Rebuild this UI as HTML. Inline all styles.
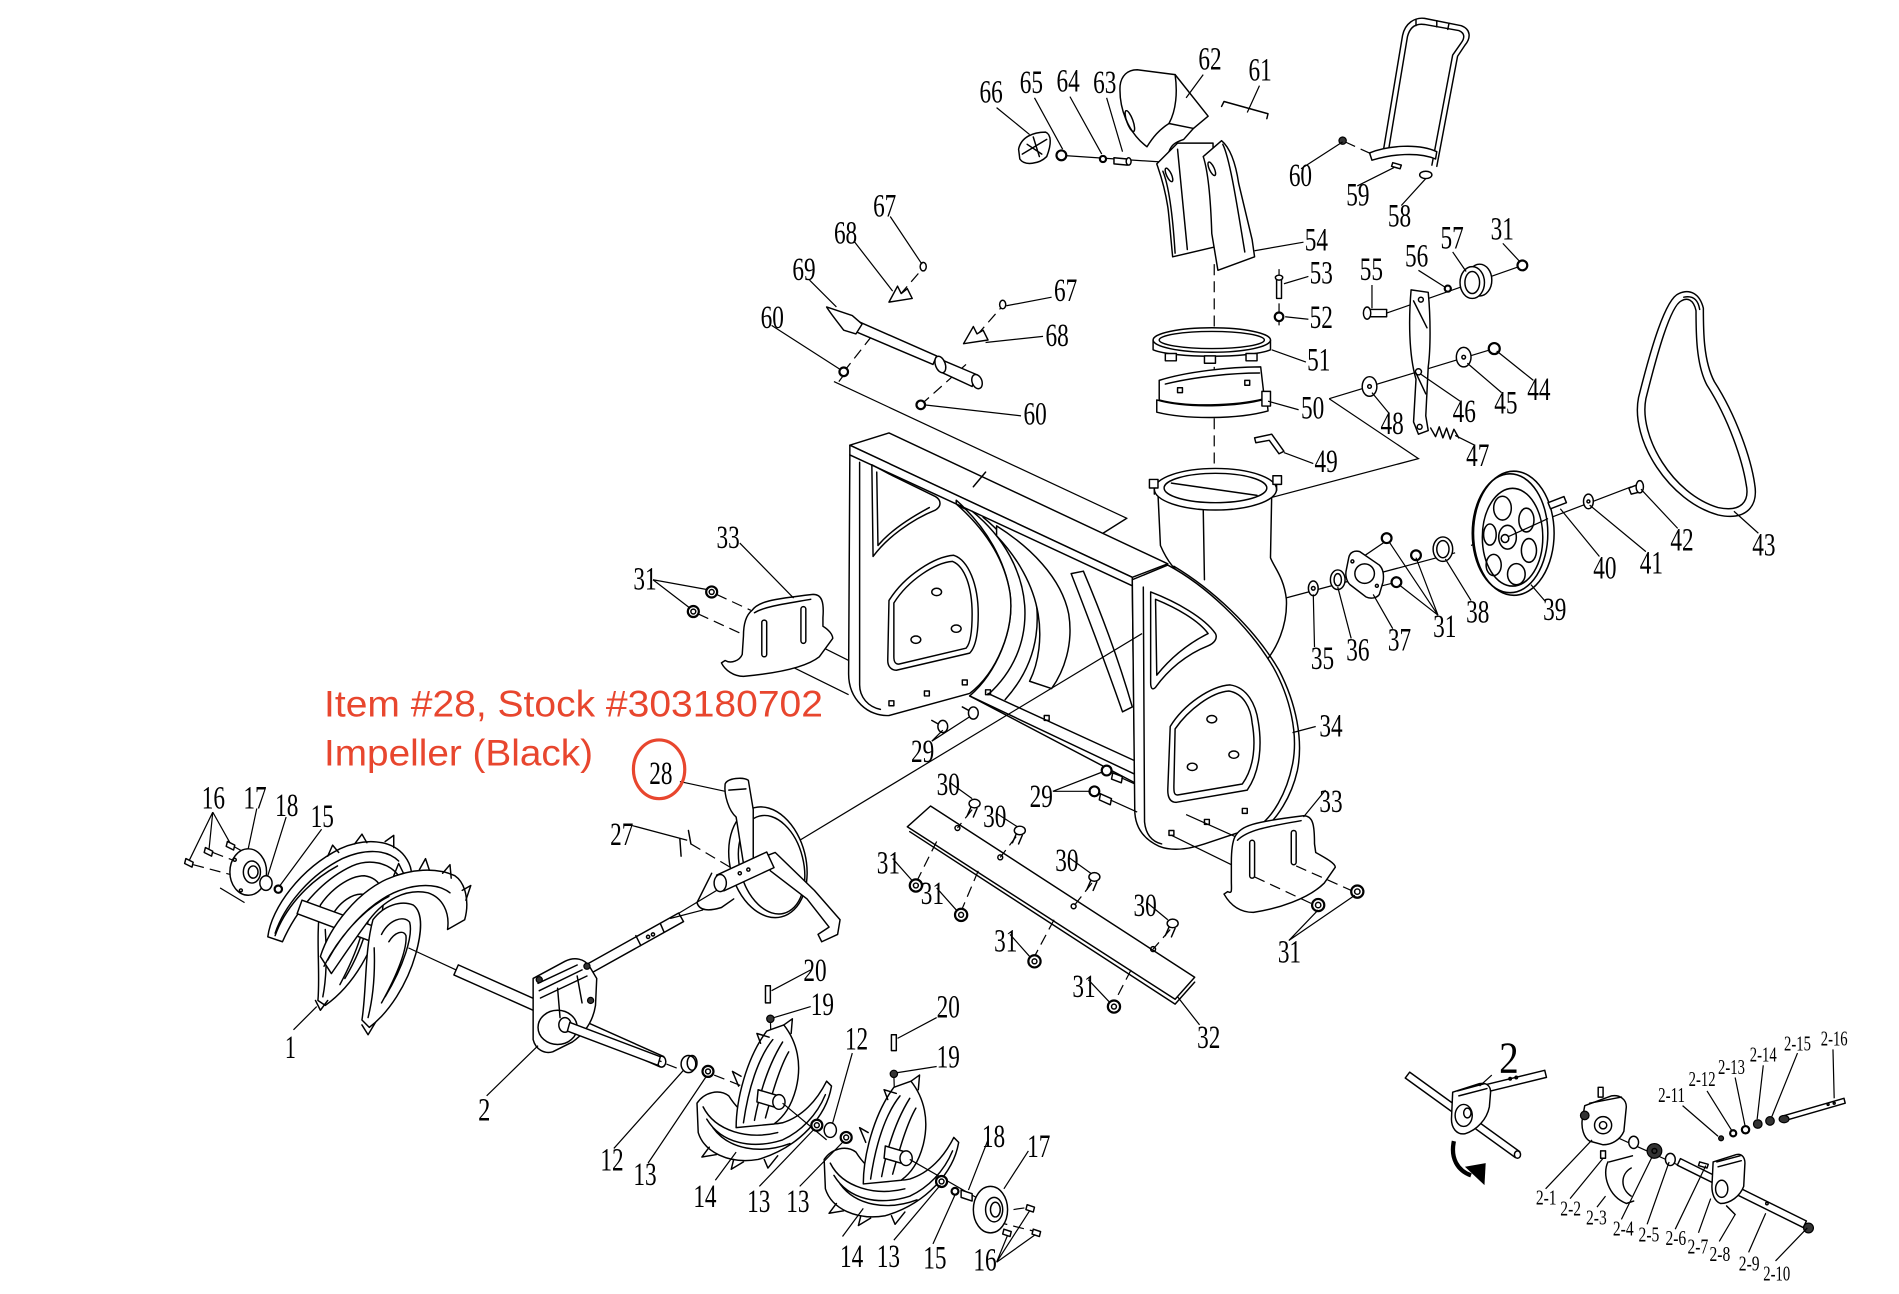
<!DOCTYPE html>
<html><head><meta charset="utf-8"><style>
html,body{margin:0;padding:0;background:#fff;width:1899px;height:1294px;overflow:hidden}
svg{display:block}
.l{fill:none;stroke:#000;stroke-width:1.2;stroke-linejoin:round;stroke-linecap:round}
.ld{fill:none;stroke:#000;stroke-width:1}
.w{fill:#fff;stroke:#000;stroke-width:1.2;stroke-linejoin:round}
.k{fill:#333;stroke:#000;stroke-width:1}
.n{fill:#fff;stroke:#000;stroke-width:1.8}
.d{fill:none;stroke:#000;stroke-width:1;stroke-dasharray:9 5}
.t{font-family:"Liberation Serif",serif;font-size:27px;fill:#000}
.s{font-family:"Liberation Serif",serif;font-size:17px;fill:#000}
.r{font-family:"Liberation Sans",sans-serif;font-size:30px;fill:#e8462e}
</style></head><body>
<svg width="1899" height="1294" viewBox="0 0 1553 1058" preserveAspectRatio="none" xmlns="http://www.w3.org/2000/svg">
<rect x="0" y="0" width="1553" height="1058" fill="#fff"/>

<!-- background connector lines -->
<path class="ld" d="M682,312 L922,424"/>
<path class="ld" d="M1087,326 L1160,375 L1020,412"/>
<path class="ld" d="M1087,326 L1222,285"/>
<path class="ld" d="M1134,256 L1245,217"/>
<path class="ld" d="M868,127 L958,133"/>
<path class="ld" d="M1040,492 L1190,452"/>
<path class="d" d="M1203,446 L1228,436"/>
<path class="ld" d="M1266,424 L1334,398"/>
<path class="d" d="M993,216 L993,392"/>
<path class="d" d="M1046,220 L1046,266"/>

<!-- ===== CHUTE BODY (behind housing plate) ===== -->
<path class="w" d="M947,404 L949,446 C955,460 962,468 970,472 L1030,546 C1045,532 1053,510 1052,490 C1050,472 1042,464 1039,456 L1040,404 Z"/>
<path class="l" d="M984,416 L985,474"/>
<ellipse class="w" cx="994" cy="400" rx="50" ry="17"/>
<ellipse class="l" cx="994" cy="399" rx="42" ry="12"/>
<path class="l" d="M944,396 L944,404 M1044,393 L1044,401 M958,395 L1028,405"/>
<rect class="w" x="940" y="392" width="7" height="7"/>
<rect class="w" x="1041" y="389" width="7" height="7"/>

<!-- ===== HOUSING ===== -->
<path class="w" d="M695,364 L727,354 L955,461 L926,472 Z"/>
<path class="w" d="M695,364 L926,472 L926,480 L695,372 Z"/>
<path class="l" d="M796,398 L806,386 M902,436 L921,424"/>
<path class="w" d="M782,412 L926,479 L928,640 L793,569 C815,550 830,515 826,485 C822,460 808,432 782,409 Z"/>
<path class="l" d="M795,418 C822,440 836,468 838,495 C840,525 828,550 808,568"/>
<path class="l" d="M804,423 C832,446 846,472 848,498 C850,528 840,552 822,572"/>
<path class="w" d="M815,430 C842,447 868,472 874,502 C878,527 870,549 860,563 L842,557 C850,541 852,520 849,502 C845,478 832,456 815,438 Z"/>
<path class="w" d="M876,469 L886,467 C900,500 915,540 926,578 L918,582 C905,545 890,505 876,469 Z"/>
<path class="l" d="M808,567 L928,622 M793,569 L928,633"/>
<rect class="l" x="806" y="564" width="4" height="4"/>
<rect class="l" x="854" y="585" width="4" height="4"/>
<!-- left plate -->
<path class="w" d="M695,372 L782,412 C808,435 822,460 826,485 C830,515 815,550 793,567 L727,585 C710,586 694,572 694,551 Z"/>
<path class="l" d="M703,378 L703,560 C703,570 710,578 720,580"/>
<path class="l" d="M713,380 L714,455 C725,440 745,425 765,417 C770,414 770,409 765,406 L730,389 Z"/>
<path class="l" d="M717,386 L718,446 C728,434 745,423 760,415"/>
<path class="l" d="M727,491 C740,470 765,455 780,454 C792,458 800,478 800,502 C800,520 797,530 793,534 L733,548 C729,548 726,545 726,540 Z"/>
<path class="l" d="M731,493 C743,474 765,460 779,459 C789,463 795,480 795,502 C795,518 793,527 790,530 L735,543 C732,543 731,541 731,537 Z"/>
<ellipse class="l" cx="766" cy="484" rx="4" ry="3"/>
<ellipse class="l" cx="782" cy="514" rx="4" ry="3"/>
<ellipse class="l" cx="749" cy="523" rx="4" ry="3"/>
<rect class="l" x="727" y="573" width="4" height="4"/>
<rect class="l" x="756" y="565" width="4" height="4"/>
<rect class="l" x="787" y="556" width="4" height="4"/>
<!-- right plate -->
<path class="w" d="M926,474 L955,462 C985,478 1020,510 1041,545 C1055,570 1062,600 1057,625 C1052,650 1040,668 1030,675 L985,690 C970,695 958,696 948,692 C935,686 928,676 928,662 Z"/>
<path class="l" d="M960,463 C990,481 1025,512 1046,548 C1060,575 1066,605 1061,630 C1056,652 1044,670 1033,678"/>
<path class="l" d="M935,480 L936,672 C937,682 942,688 950,690"/>
<path class="l" d="M941,484 C962,492 985,505 994,518 C996,522 993,526 988,528 C970,535 955,548 945,562 C942,565 941,562 941,558 Z"/>
<path class="l" d="M945,490 C962,497 980,507 988,518 C972,526 958,537 946,552 Z"/>
<path class="l" d="M957,594 C968,576 990,561 1006,560 C1020,562 1027,576 1029,590 C1032,608 1031,630 1020,646 L962,656 C957,656 955,652 955,646 Z"/>
<path class="l" d="M961,596 C972,580 991,566 1005,565 C1017,567 1023,579 1024,591 C1027,608 1026,627 1016,641 L963,650 C960,650 960,647 960,643 Z"/>
<ellipse class="l" cx="991" cy="588" rx="4" ry="3"/>
<ellipse class="l" cx="1009" cy="617" rx="4" ry="3"/>
<ellipse class="l" cx="975" cy="627" rx="4" ry="3"/>
<rect class="l" x="1016" y="661" width="4" height="4"/>
<rect class="l" x="985" y="670" width="4" height="4"/>
<rect class="l" x="956" y="679" width="4" height="4"/>

<!-- 29 bolts -->
<path class="l" d="M762,589 L771,594 M787,578 L796,583"/>
<ellipse class="w" cx="771" cy="594" rx="4" ry="5"/>
<ellipse class="w" cx="796" cy="583" rx="4" ry="5"/>
<path class="l" d="M905,630 L917,635 M895,647 L908,653"/>
<path class="w" d="M910,632 L918,635 L917,640 L909,637 Z"/>
<path class="w" d="M900,649 L909,653 L908,658 L899,654 Z"/>
<circle class="n" cx="905" cy="630" r="4"/>
<circle class="n" cx="895" cy="647" r="4"/>
<path class="ld" d="M917,636 L928,641 M908,654 L930,664"/>

<!-- long diagonal axis -->
<path class="ld" d="M934,518 L548,751"/>

<!-- ===== LEFT SKID 33 ===== -->
<path class="ld" d="M627,535 L694,568 M658,522 L694,540"/>
<path class="w" d="M615,499 C620,492 630,490 665,486 C672,486 674,492 673,505 L673,512 C678,515 681,519 681,522 L670,537 C660,545 640,550 608,553 C600,553 593,548 590,542 L593,540 C598,543 605,540 607,535 L608,520 C608,510 610,503 615,499 Z"/>
<path class="l" d="M617,501 C625,496 640,494 663,490"/>
<rect class="l" x="623" y="507" width="4" height="30" rx="2"/>
<rect class="l" x="655" y="496" width="4" height="30" rx="2"/>
<path class="d" d="M586,486 L614,499 M571,502 L606,518"/>
<circle class="n" cx="582" cy="484" r="4.5"/><circle class="l" cx="582" cy="484" r="2"/>
<circle class="n" cx="567" cy="500" r="4.5"/><circle class="l" cx="567" cy="500" r="2"/>

<!-- ===== RIGHT SKID 33 ===== -->
<path class="ld" d="M970,666 L1019,688 M958,683 L1007,707"/>
<path class="w" d="M1010,684 C1015,675 1025,672 1066,667 C1074,667 1075,675 1075,690 L1076,697 C1085,702 1092,706 1092,709 L1083,722 C1070,735 1045,743 1025,746 C1012,746 1005,738 1001,731 L1004,729 C1008,731 1007,728 1007,720 L1007,705 C1007,695 1008,688 1010,684 Z"/>
<path class="l" d="M1012,687 C1020,679 1035,676 1064,671"/>
<rect class="l" x="1022" y="687" width="4" height="31" rx="2"/>
<rect class="l" x="1056" y="679" width="4" height="28" rx="2"/>
<path class="d" d="M1026,717 L1073,739 M1060,708 L1105,728"/>
<circle class="n" cx="1078" cy="740" r="5"/><circle class="l" cx="1078" cy="740" r="2.2"/>
<circle class="n" cx="1110" cy="729" r="5"/><circle class="l" cx="1110" cy="729" r="2.2"/>

<!-- ===== SCRAPER BAR 32 ===== -->
<path class="w" d="M742,676 L761,659 L977,799 L961,817 Z"/>
<path class="l" d="M744,680 L961,821 L977,803"/>
<circle class="l" cx="783" cy="677" r="2"/>
<circle class="l" cx="818" cy="701" r="2"/>
<circle class="l" cx="878" cy="741" r="2"/>
<circle class="l" cx="943" cy="776" r="2"/>
<path class="d" d="M795,662 L783,677 M831,684 L818,701 M893,722 L878,741 M957,760 L943,776"/>
<path class="d" d="M766,688 L749,722 M800,712 L786,745 M862,752 L846,782 M925,793 L912,818"/>
<ellipse class="w" cx="797" cy="657" rx="4.5" ry="3.5"/><path class="l" d="M794,660 L791,667 M799,661 L796,668"/>
<ellipse class="w" cx="834" cy="679" rx="4.5" ry="3.5"/><path class="l" d="M831,682 L828,689 M836,683 L833,690"/>
<ellipse class="w" cx="895" cy="717" rx="4.5" ry="3.5"/><path class="l" d="M892,720 L889,727 M897,721 L894,728"/>
<ellipse class="w" cx="959" cy="755" rx="4.5" ry="3.5"/><path class="l" d="M956,758 L953,765 M961,759 L958,766"/>
<circle class="n" cx="749" cy="724" r="5"/><circle class="l" cx="749" cy="724" r="2"/>
<circle class="n" cx="786" cy="748" r="5"/><circle class="l" cx="786" cy="748" r="2"/>
<circle class="n" cx="846" cy="786" r="5"/><circle class="l" cx="846" cy="786" r="2"/>
<circle class="n" cx="911" cy="823" r="5"/><circle class="l" cx="911" cy="823" r="2"/>

<!-- ===== CONTROL ROD 69 ===== -->
<path class="d" d="M690,304 L712,276 M753,331 L790,298 M736,241 L755,219 M799,274 L820,250 M686,312 L692,304"/>
<path class="w" d="M700,262 L766,291 L763,298 L697,270 Z"/>
<path class="w" d="M676,251 L697,258 L705,265 L700,273 L690,270 C684,262 679,256 676,251 Z"/>
<path class="w" d="M772,295 L798,306 L795,316 L769,304 Z"/>
<ellipse class="w" cx="769" cy="298" rx="4" ry="7" transform="rotate(-20 769 298)"/>
<ellipse class="w" cx="799" cy="312" rx="4" ry="6" transform="rotate(-20 799 312)"/>
<path class="w" d="M727,247 L746,244 L742,236 L737,240 L734,234 Z"/>
<path class="w" d="M788,281 L808,278 L804,270 L799,273 L796,267 Z"/>
<ellipse class="w" cx="755" cy="218" rx="2.5" ry="3.5"/>
<ellipse class="w" cx="820" cy="249" rx="2.5" ry="3.5"/>
<circle class="n" cx="690" cy="304" r="3.5"/>
<circle class="n" cx="753" cy="331" r="3.5"/>

<!-- ===== CHUTE PARTS ===== -->
<path class="w" d="M916,70 C915,88 922,108 938,120 C943,112 948,106 956,101 L976,105 L988,95 L961,61 L930,57 C922,57 917,62 916,70 Z"/>
<path class="l" d="M956,101 C962,90 963,75 961,61 M976,105 L968,114 C962,116 958,118 956,124"/>
<ellipse class="l" cx="924" cy="99" rx="2.5" ry="9" transform="rotate(-20 924 99)"/>
<path class="w" d="M946,134 L963,117 L992,117 L993,202 L959,210 C957,190 956,175 955,169 C952,150 948,140 946,134 Z"/>
<path class="l" d="M951,140 C956,152 959,175 961,207 M963,122 L971,204"/>
<path class="w" d="M984,128 L999,115 C1005,120 1010,130 1013,150 L1024,196 L1026,210 L996,221 L991,191 C990,160 988,140 984,128 Z"/>
<path class="l" d="M1000,118 C1006,130 1012,170 1018,206"/>
<ellipse class="l" cx="956" cy="143" rx="2" ry="6" transform="rotate(-25 956 143)"/>
<ellipse class="l" cx="991" cy="138" rx="2" ry="6" transform="rotate(-25 991 138)"/>
<path class="l" d="M999,87 L1001,83 L1037,93 L1036,97"/>
<path class="w" d="M833,122 C835,112 845,108 855,108 C860,110 860,118 856,128 C850,134 838,136 834,130 Z"/>
<path class="l" d="M840,118 L852,126 M845,112 L850,128 M836,126 L856,114" stroke-width="1.6"/>
<circle class="n" cx="868" cy="127" r="4"/>
<circle class="n" cx="902" cy="130" r="2.5"/>
<path class="w" d="M911,129 L922,130 L922,135 L911,134 Z"/><ellipse class="w" cx="923" cy="132" rx="2" ry="3"/>

<!-- 51 -->
<path class="w" d="M943,278 L943,286 C960,293 1022,293 1039,286 L1039,278 Z"/>
<ellipse class="w" cx="991" cy="278" rx="48" ry="10"/>
<ellipse class="l" cx="991" cy="278" rx="43" ry="7"/>
<rect class="w" x="953" y="289" width="9" height="6"/>
<rect class="w" x="985" y="291" width="9" height="6"/>
<rect class="w" x="1019" y="289" width="9" height="6"/>
<!-- 50 -->
<path class="w" d="M946,327 C970,334 1012,333 1036,326 L1037,336 C1012,343 970,343 946,337 Z"/>
<path class="w" d="M948,311 C970,304 1005,300 1031,300 L1034,326 C1010,332 970,333 948,327 Z"/>
<path class="l" d="M953,314 C978,308 1008,305 1030,305"/>
<rect class="w" x="1032" y="320" width="7" height="12"/>
<rect class="l" x="963" y="317" width="4" height="4"/>
<rect class="l" x="1018" y="311" width="4" height="4"/>
<!-- 49 -->
<path class="l" d="M1026,358 L1040,355 L1050,369 L1046,371 L1038,360 L1027,362 Z"/>
<!-- 53 52 -->
<path class="w" d="M1044,228 L1048,228 L1048,244 L1044,244 Z"/><ellipse class="w" cx="1046" cy="227" rx="3" ry="2"/>
<circle class="n" cx="1046" cy="259" r="3.5"/>

<!-- handle 58 -->
<path class="l" d="M1131,125 L1147,29 C1149,19 1157,14 1165,15 L1195,21 C1203,24 1203,31 1198,37 L1192,46 L1175,136"/>
<path class="l" d="M1135,126 L1151,30 C1153,22 1158,19 1165,20 L1193,25 C1198,27 1198,31 1195,35 L1188,45 L1171,135"/>
<path class="l" d="M1158,16 L1158,21 M1175,17 L1175,22 M1185,19 L1184,24"/>
<path class="w" d="M1120,125 C1135,119 1160,117 1175,124 L1174,130 C1160,124 1138,126 1122,131 Z"/>
<ellipse class="w" cx="1166" cy="143" rx="5" ry="3"/>
<path class="w" d="M1139,133 L1146,135 L1145,138 L1138,136 Z"/>
<path class="d" d="M1100,116 L1124,127"/>
<circle class="k" cx="1098" cy="115" r="3"/>

<!-- 46 bracket, 55-57, 44-48 -->
<path class="w" d="M1154,237 L1168,239 C1170,260 1170,285 1168,300 L1166,340 L1168,352 L1160,355 L1156,345 L1158,310 C1152,290 1152,260 1154,237 Z"/>
<path class="l" d="M1156,246 L1167,268 M1158,305 L1166,322"/>
<circle class="l" cx="1162" cy="245" r="2"/><circle class="l" cx="1160" cy="304" r="2.5"/><circle class="l" cx="1161" cy="349" r="2"/>
<path class="w" d="M1118,253 L1134,253 L1134,259 L1118,259 Z"/><ellipse class="w" cx="1118" cy="256" rx="3" ry="5"/>
<circle class="n" cx="1184" cy="236" r="2.5"/>
<ellipse class="w" cx="1210" cy="229" rx="10" ry="13"/>
<ellipse class="w" cx="1204" cy="231" rx="10" ry="13"/>
<ellipse class="l" cx="1204" cy="231" rx="6" ry="9"/>
<circle class="n" cx="1245" cy="217" r="4"/>
<ellipse class="w" cx="1197" cy="292" rx="6" ry="8"/><circle class="l" cx="1197" cy="292" r="1.5"/>
<circle class="n" cx="1222" cy="285" r="4.5"/>
<ellipse class="w" cx="1120" cy="316" rx="6" ry="8"/><circle class="l" cx="1120" cy="316" r="1.5"/>
<path class="l" d="M1170,350 L1174,357 L1177,349 L1180,358 L1183,350 L1186,359 L1189,351 L1193,358" stroke-width="1.6"/>

<!-- 43 belt -->
<path class="l" d="M1373,240 C1362,244 1350,285 1340,325 C1333,360 1365,410 1405,421 C1428,426 1438,414 1435,396 C1432,375 1420,340 1402,312 C1393,295 1393,270 1393,252 C1390,240 1382,236 1373,240 Z"/>
<path class="l" d="M1375,246 C1366,250 1355,290 1346,326 C1340,357 1368,404 1405,415 C1424,419 1431,410 1428,396 C1425,377 1414,343 1396,315 C1387,298 1387,272 1387,254 C1385,245 1380,243 1375,246 Z"/>
<path class="l" d="M1377,243 C1386,241 1389,247 1390,253"/>

<!-- 39 pulley -->
<g transform="translate(1238,436) scale(1.03,1.08) translate(-1238,-429)">
<ellipse class="w" cx="1238" cy="429" rx="32" ry="47"/>
<ellipse class="l" cx="1235" cy="429" rx="30" ry="45"/>
<ellipse class="l" cx="1237" cy="432" rx="24" ry="37"/>
<ellipse class="l" cx="1229" cy="410" rx="7" ry="9"/>
<ellipse class="l" cx="1248" cy="419" rx="6" ry="9"/>
<ellipse class="l" cx="1250" cy="442" rx="6" ry="9"/>
<ellipse class="l" cx="1240" cy="460" rx="7" ry="8"/>
<ellipse class="l" cx="1222" cy="453" rx="6" ry="8"/>
<ellipse class="l" cx="1219" cy="430" rx="5" ry="8"/>
<ellipse class="w" cx="1233" cy="432" rx="7" ry="9"/>
<circle class="l" cx="1231" cy="433" r="3"/>
</g>
<path class="ld" d="M1233,439 L1266,424"/>
<path class="w" d="M1266,411 L1279,406 L1281,411 L1268,416 Z"/>
<ellipse class="w" cx="1299" cy="410" rx="4" ry="6"/><circle class="l" cx="1299" cy="410" r="1.2"/>
<path class="w" d="M1332,399 L1340,396 L1342,402 L1334,404 Z"/><ellipse class="w" cx="1341" cy="398" rx="3" ry="5"/>
<ellipse class="w" cx="1180" cy="449" rx="8" ry="10"/><ellipse class="l" cx="1180" cy="449" rx="5" ry="7"/>
<path class="ld" d="M1112,457 L1134,442 M1122,481 L1142,476"/>
<path class="w" d="M1103,456 C1104,451 1108,450 1112,451 L1128,462 C1131,465 1132,470 1131,476 L1128,486 C1126,489 1121,490 1117,488 L1104,478 C1101,475 1100,470 1101,466 Z"/>
<circle class="l" cx="1116" cy="469" r="8"/>
<circle class="l" cx="1106" cy="459" r="1.2"/><circle class="l" cx="1126" cy="479" r="1.2"/>
<circle class="n" cx="1134" cy="440" r="4"/>
<circle class="n" cx="1158" cy="454" r="4"/>
<circle class="n" cx="1142" cy="476" r="4"/>
<ellipse class="w" cx="1094" cy="474" rx="6" ry="8"/><ellipse class="l" cx="1094" cy="474" rx="3" ry="5"/>
<ellipse class="w" cx="1074" cy="481" rx="4" ry="6"/><circle class="l" cx="1074" cy="481" r="1.5"/>

<!-- ===== LEFT AUGER 1 ===== -->
<path class="d" d="M158,707 L192,716 M174,697 L195,705 M191,692 L200,697"/>
<path class="ld" d="M180,726 L200,738"/>
<path class="w" d="M219,766 C222,742 246,710 278,694 C298,685 320,686 331,700 C337,708 338,716 334,722 L326,716 C318,705 302,702 288,708 C262,720 242,745 231,770 Z"/>
<path class="l" d="M225,763 C232,742 252,716 280,702 C298,694 316,694 326,704"/>
<path class="l" d="M268,700 L272,691 L277,697 M290,690 L296,682 L300,689 M315,688 L322,683 L322,693"/>
<path class="w" d="M262,740 C270,728 285,716 298,716 C312,718 316,730 312,748 C306,775 290,805 266,822 L260,818 C262,795 258,765 262,740 Z"/>
<path class="l" d="M270,752 C276,738 290,728 300,732 C306,740 300,770 282,800 M266,760 C268,790 266,805 264,815 M276,756 C282,746 292,740 298,744 C300,752 294,775 278,805"/>
<path class="l" d="M225,765 C232,745 250,722 276,708"/>
<path class="w" d="M247,736 L335,768 L331,780 L243,747 Z"/>
<ellipse class="w" cx="333" cy="774" rx="5" ry="6.5"/>
<path class="w" d="M262,782 C270,757 292,730 316,719 C336,710 357,709 372,716 C381,722 384,738 380,752 L366,760 C368,746 362,734 350,730 C332,726 314,736 302,752 C290,768 278,786 271,796 Z"/>
<path class="l" d="M268,785 C280,763 300,740 322,730 C340,722 358,722 368,730 M265,790 C276,768 296,744 318,733"/>
<path class="l" d="M322,716 L326,706 L330,714 M343,711 L348,702 L351,711 M362,714 L368,707 L369,718 M378,728 L385,724 L381,736"/>
<path class="w" d="M305,752 C314,740 328,736 338,740 C346,746 345,762 340,780 C333,805 318,828 302,840 L296,834 C300,808 298,778 305,752 Z"/>
<path class="l" d="M312,764 C318,752 330,748 335,754 C338,765 330,790 315,815 M306,775 C307,800 304,820 301,832 M318,770 C323,762 330,760 332,765 C333,775 326,795 312,820"/>
<path class="l" d="M258,818 L262,826 L268,818 M296,838 L301,846 L307,836"/>
<ellipse class="w" cx="203" cy="713" rx="15" ry="19"/>
<ellipse class="l" cx="206" cy="713" rx="7" ry="9"/><ellipse class="l" cx="207" cy="713" rx="4" ry="5"/>
<circle class="l" cx="192" cy="703" r="1.2"/><circle class="l" cx="197" cy="728" r="1.2"/>
<ellipse class="w" cx="217.5" cy="722" rx="5" ry="6"/>
<circle class="n" cx="227.6" cy="727" r="3"/>
<path class="w" d="M152,702 L158,705 L157,709 L151,706 Z"/>
<path class="w" d="M168,693 L174,696 L173,700 L167,697 Z"/>
<path class="w" d="M186,688 L192,691 L191,695 L185,692 Z"/>

<!-- ===== AXLE + GEARBOX 2 ===== -->
<path class="ld" d="M334,775 L373,793"/>
<path class="w" d="M374.8,788.9 L542.8,863.9 L539.2,872.1 L371.2,797.1 Z"/>
<ellipse class="w" cx="541" cy="868" rx="3.5" ry="4.5"/>
<path class="w" d="M478,789.5 L555,746.5 L559,753.5 L482,796.5 Z"/>
<path class="l" d="M520,765 L524,773 M540,755 L543,762"/>
<circle class="l" cx="530" cy="766" r="1.3"/><circle class="l" cx="534" cy="764" r="1.3"/>
<path class="w" d="M436,800 L462,786 C470,782 478,784 482,790 L488,800 L487,822 C485,835 478,845 468,852 L452,860 C445,862 438,858 436,850 Z"/>
<path class="l" d="M440,804 L472,789 M441,810 L476,793 M442,816 L480,798 M456,808 L458,832 M472,798 L476,820"/>
<ellipse class="l" cx="456" cy="840" rx="16" ry="14"/>
<ellipse class="w" cx="462" cy="838" rx="5" ry="6"/>
<circle class="k" cx="441" cy="801" r="2.5"/><circle class="k" cx="480" cy="790" r="2.5"/><circle class="k" cx="483" cy="818" r="2.5"/>
<path class="ld" d="M466,840 L541,868"/>
<path class="w" d="M466,836 L540,864 L538,871 L464,843 Z"/>

<!-- ===== IMPELLER 28 ===== -->
<ellipse class="w" cx="628" cy="705" rx="31" ry="46" transform="rotate(-14 628 705)"/>
<ellipse class="l" cx="631" cy="707" rx="26" ry="41" transform="rotate(-14 631 707)"/>
<path class="w" d="M593,641 C595,636 608,635 612,638 L616,662 L616,703 L608,706 L602,668 C596,663 592,650 593,641 Z"/>
<path class="l" d="M596,646 L610,645"/>
<path class="w" d="M626,700 L634,697 L666,728 L687,752 L685,764 L672,770 L669,764 L678,758 L660,735 L630,712 Z"/>
<path class="w" d="M586,715.6 L627,696.6 L633,709.4 L592,728.4 Z"/>
<ellipse class="w" cx="589" cy="722" rx="5" ry="7"/>
<circle class="l" cx="605" cy="714" r="1.3"/><circle class="l" cx="612" cy="711" r="1.3"/>
<path class="l" d="M582,714 L570,738 C572,745 580,745 590,742 L600,735"/>
<path class="ld" d="M575,744 L548,751"/>
<path class="l" d="M563,679 L565,690 M556,686 L557,700"/>
<path class="d" d="M565,690 L597,709"/>

<!-- ===== LOWER AUGERS 14 ===== -->
<path class="d" d="M545,870 L558,875 M584,879 L622,894"/>
<ellipse class="w" cx="563" cy="870" rx="6" ry="7"/><ellipse class="l" cx="566" cy="869" rx="4" ry="6"/>
<circle class="n" cx="579" cy="876" r="4.5"/><circle class="l" cx="579" cy="876" r="2"/>
<g>
<path class="ld" d="M630,833 L632,895"/>
<path class="w" d="M570,902 C576,893 588,890 596,896 C606,912 622,922 640,918 C656,913 668,900 676,884 L680,888 C676,912 654,938 620,948 C596,952 576,942 571,926 Z"/>
<path class="l" d="M578,915 C590,935 615,940 640,932 C655,925 668,912 675,895 M575,905 C585,925 612,932 636,926 M583,922 C596,940 622,944 646,935"/>
<path class="w" d="M627,843 L641,838 C652,852 656,870 651,890 C647,905 641,913 633,919 L602,922 C602,900 610,866 627,843 Z"/>
<path class="l" d="M608,918 C612,890 620,865 632,850 M617,916 C622,890 630,868 640,852 M626,914 C632,892 638,872 645,860"/>
<path class="l" d="M622,853 L619,845 L629,848 M641,838 L648,833 L647,845 M580,938 L574,946 L586,944 M600,948 L598,956 L608,950 M625,948 L628,955 L636,945 M606,880 L599,876 L604,888"/>
<path class="w" d="M620,891 L637,896 L636,906 L619,901 Z"/>
<ellipse class="w" cx="637" cy="901" rx="5" ry="6"/>
</g>
<path class="ld" d="M640,902 L676,932"/>
<circle class="n" cx="668" cy="920" r="4.5"/><circle class="l" cx="668" cy="920" r="2"/>
<ellipse class="w" cx="679" cy="924" rx="5" ry="6"/>
<circle class="n" cx="692" cy="930" r="4.5"/><circle class="l" cx="692" cy="930" r="2"/>
<g transform="translate(104,46)">
<path class="ld" d="M627,833 L629,895"/>
<path class="w" d="M570,902 C576,893 588,890 596,896 C606,912 622,922 640,918 C656,913 668,900 676,884 L680,888 C676,912 654,938 620,948 C596,952 576,942 571,926 Z"/>
<path class="l" d="M578,915 C590,935 615,940 640,932 C655,925 668,912 675,895 M575,905 C585,925 612,932 636,926 M583,922 C596,940 622,944 646,935"/>
<path class="w" d="M627,843 L641,838 C652,852 656,870 651,890 C647,905 641,913 633,919 L602,922 C602,900 610,866 627,843 Z"/>
<path class="l" d="M608,918 C612,890 620,865 632,850 M617,916 C622,890 630,868 640,852 M626,914 C632,892 638,872 645,860"/>
<path class="l" d="M622,853 L619,845 L629,848 M641,838 L648,833 L647,845 M580,938 L574,946 L586,944 M600,948 L598,956 L608,950 M625,948 L628,955 L636,945 M606,880 L599,876 L604,888"/>
<path class="w" d="M620,891 L637,896 L636,906 L619,901 Z"/>
<ellipse class="w" cx="637" cy="901" rx="5" ry="6"/>
</g>
<path class="ld" d="M744,948 L800,980"/>
<path class="w" d="M626,806 L630,806 L630,820 L626,820 Z"/><circle class="k" cx="630" cy="833" r="3"/>
<path class="w" d="M729,846 L733,846 L733,859 L729,859 Z"/><circle class="k" cx="731" cy="878" r="3"/>
<circle class="n" cx="770" cy="966" r="4.5"/><circle class="l" cx="770" cy="966" r="2"/>
<circle class="n" cx="781" cy="974" r="2.8"/>
<path class="w" d="M786,973 L795,976 L795,982 L786,979 Z"/>
<path class="d" d="M815,991 L842,987 M815,999 L847,1007 M810,1000 L823,1007"/>
<ellipse class="w" cx="810" cy="989" rx="14" ry="19"/>
<ellipse class="l" cx="813" cy="989" rx="7" ry="10"/><ellipse class="l" cx="814" cy="989" rx="4" ry="6"/>
<path class="w" d="M840,985 L846,987 L845,991 L839,989 Z"/>
<path class="w" d="M845,1005 L851,1007 L850,1011 L844,1009 Z"/>
<path class="w" d="M821,1005 L827,1007 L826,1011 L820,1009 Z"/>

<!-- ===== INSET (2-x) ===== -->
<path class="w" d="M1152.8,876.6 L1242.8,941.6 L1239.2,946.4 L1149.2,881.4 Z"/>
<ellipse class="w" cx="1241" cy="944" rx="2.5" ry="3"/>
<path class="w" d="M1189.3,893.1 L1263.3,875.1 L1264.7,880.9 L1190.7,898.9 Z"/>
<circle class="l" cx="1235" cy="882" r="1"/><circle class="l" cx="1240" cy="881" r="1"/>
<path class="w" d="M1188,893 L1210,886 C1216,885 1219,888 1219,893 L1218,905 C1216,915 1208,924 1198,927 C1191,928 1187,922 1187,915 Z"/>
<path class="l" d="M1192,892 L1214,886 M1193,896 L1216,890"/>
<ellipse class="l" cx="1197" cy="912" rx="7" ry="9"/><ellipse class="w" cx="1200" cy="910" rx="3" ry="4"/>
<path d="M1189,933 C1186,947 1192,957 1203,961" stroke="#000" stroke-width="3.5" fill="none"/>
<path d="M1198,954 L1214,969 L1215,951 Z" fill="#000"/>
<path class="ld" d="M1318,928 L1400,965"/>
<path class="w" d="M1296,904 L1318,896 C1325,895 1330,899 1330,905 L1328,925 C1325,932 1318,936 1311,936 L1300,933 C1295,930 1293,922 1294,915 Z"/>
<path class="l" d="M1300,902 L1326,897"/>
<circle class="l" cx="1311" cy="920" r="7"/><circle class="l" cx="1311" cy="920" r="3"/>
<circle class="k" cx="1296" cy="912" r="3.5"/>
<path class="w" d="M1307,889 L1311,889 L1311,897 L1307,897 Z"/>
<path class="w" d="M1309,941 L1313,941 L1313,947 L1309,947 Z"/>
<path class="l" d="M1316,950 L1335,945 M1315,950 C1310,960 1315,978 1330,984 L1336,982 M1334,955 C1325,960 1325,972 1334,978"/>
<ellipse class="w" cx="1336" cy="934" rx="4" ry="5"/>
<circle class="k" cx="1353" cy="941" r="6"/><circle class="l" cx="1353" cy="941" r="2"/>
<ellipse class="w" cx="1366" cy="948" rx="4" ry="5"/>
<path class="w" d="M1374.3,947.3 L1477.3,998.3 L1474.7,1003.7 L1371.7,952.7 Z"/>
<circle class="l" cx="1445" cy="984" r="1"/>
<path class="w" d="M1390,950 L1397,952 L1396,955 L1389,953 Z"/>
<path class="w" d="M1401,950 L1420,944 C1425,943 1427,947 1427,951 L1426,970 C1423,978 1415,984 1407,984 C1402,982 1400,976 1400,970 Z"/>
<path class="l" d="M1404,950 L1423,945 M1405,954 L1424,949"/>
<ellipse class="l" cx="1408" cy="972" rx="5" ry="7"/>
<path class="l" d="M1412,986 L1419,993"/>
<circle class="k" cx="1479" cy="1004" r="4"/>
<path class="w" d="M1456,913 L1508,898 L1509,902 L1457,917 Z"/>
<ellipse class="k" cx="1459" cy="915" rx="4" ry="3"/>
<circle class="l" cx="1495" cy="903" r="0.8"/><circle class="l" cx="1500" cy="902" r="0.8"/>
<circle class="k" cx="1407.5" cy="930.7" r="2"/>
<circle class="n" cx="1417.4" cy="926.6" r="2.5"/>
<circle class="n" cx="1427.5" cy="923.7" r="3"/>
<circle class="k" cx="1437.5" cy="919" r="3.5"/>
<circle class="k" cx="1447.5" cy="916.5" r="3.5"/>

<!-- ===== LEADER LINES ===== -->
<path class="ld" d="M815,88 L842,110 M846,80 L869,122 M875,79 L901,126 M905,80 L918,124 M984,61 L970,80 M1030,70 L1020,92
M1064,138 L1098,116 M1110,152 L1140,137 M1146,168 L1166,146
M1066,198 L1026,205 M1070,226 L1050,232 M1070,261 L1051,259 M1068,296 L1040,286 M1062,335 L1037,328 M1074,379 L1050,370
M1122,233 L1122,252 M1160,221 L1182,235 M1188,206 L1199,222 M1229,199 L1243,214
M1254,311 L1224,287 M1228,321 L1200,297 M1194,328 L1162,306 M1136,338 L1122,321 M1206,364 L1190,356
M1438,436 L1418,418 M1372,432 L1342,400 M1346,451 L1300,413 M1308,455 L1276,416 M1264,492 L1252,478
M1203,491 L1182,457 M1176,503 L1136,443 M1176,503 L1158,456 M1176,503 L1144,478 M1139,514 L1123,486 M1105,522 L1094,480 M1075,529 L1074,486
M1076,594 L1057,599 M1084,646 L1066,668 M1054,769 L1078,744 M1054,769 L1108,732 M981,838 L963,815
M777,640 L795,653 M815,665 L832,676 M874,701 L892,714 M938,738 L955,752
M730,702 L746,720 M766,726 L782,744 M826,764 L842,782 M890,801 L907,819
M861,647 L902,631 M861,647 L892,647 M762,606 L771,597 M762,606 L793,586
M605,444 L649,489 M534,474 L578,482 M534,474 L564,497
M631,266 L687,302 M662,229 L684,251 M699,198 L730,238 M728,177 L754,216 M860,243 L823,250 M853,275 L806,280 M835,340 L756,331
M556,639 L593,647 M517,675 L562,687
M174,664 L155,703 M174,664 L171,694 M174,664 L188,689 M210,661 L203,694 M234,668 L219,716 M263,678 L229,724
M240,842 L259,823 M398,896 L440,855
M502,939 L559,875 M530,951 L577,881 M585,965 L602,942 M621,970 L666,923 M654,970 L690,933
M663,793 L631,810 M663,823 L633,832 M697,861 L681,918 M766,832 L734,849 M766,872 L734,877
M808,932 L792,973 M841,941 L821,972 M815,1032 L842,990 M815,1032 L846,1010 M815,1032 L824,1010
M689,1011 L706,988 M731,1014 L769,969 M763,1017 L781,977"/>
<path class="ld" d="M1220,879 L1210,888 M1264,972 L1302,932 M1284,980 L1311,947 M1306,987 L1313,978 M1326,997 L1351,946 M1347,1001 L1365,950 M1370,1005 L1395,953 M1389,1008 L1399,980 M1406,1015 L1419,993 M1430,1024 L1444,992 M1452,1031 L1478,1004
M1376,904 L1405,929 M1396,892 L1416,924 M1419,881 L1427,920 M1442,871 L1437,915 M1470,861 L1449,913 M1499,858 L1500,898"/>

<!-- ===== LABELS ===== -->
<g class="t">
<text x="801" y="84" textLength="19" lengthAdjust="spacingAndGlyphs">66</text>
<text x="834" y="76" textLength="19" lengthAdjust="spacingAndGlyphs">65</text>
<text x="864" y="75" textLength="19" lengthAdjust="spacingAndGlyphs">64</text>
<text x="894" y="76" textLength="19" lengthAdjust="spacingAndGlyphs">63</text>
<text x="980" y="57" textLength="19" lengthAdjust="spacingAndGlyphs">62</text>
<text x="1021" y="66" textLength="19" lengthAdjust="spacingAndGlyphs">61</text>
<text x="1054" y="152" textLength="19" lengthAdjust="spacingAndGlyphs">60</text>
<text x="1101" y="168" textLength="19" lengthAdjust="spacingAndGlyphs">59</text>
<text x="1135" y="185" textLength="19" lengthAdjust="spacingAndGlyphs">58</text>
<text x="1067" y="205" textLength="19" lengthAdjust="spacingAndGlyphs">54</text>
<text x="1071" y="232" textLength="19" lengthAdjust="spacingAndGlyphs">53</text>
<text x="1071" y="268" textLength="19" lengthAdjust="spacingAndGlyphs">52</text>
<text x="1069" y="303" textLength="19" lengthAdjust="spacingAndGlyphs">51</text>
<text x="1064" y="342" textLength="19" lengthAdjust="spacingAndGlyphs">50</text>
<text x="1075" y="386" textLength="19" lengthAdjust="spacingAndGlyphs">49</text>
<text x="1112" y="229" textLength="19" lengthAdjust="spacingAndGlyphs">55</text>
<text x="1149" y="218" textLength="19" lengthAdjust="spacingAndGlyphs">56</text>
<text x="1178" y="203" textLength="19" lengthAdjust="spacingAndGlyphs">57</text>
<text x="1219" y="196" textLength="19" lengthAdjust="spacingAndGlyphs">31</text>
<text x="1249" y="327" textLength="19" lengthAdjust="spacingAndGlyphs">44</text>
<text x="1222" y="338" textLength="19" lengthAdjust="spacingAndGlyphs">45</text>
<text x="1188" y="345" textLength="19" lengthAdjust="spacingAndGlyphs">46</text>
<text x="1129" y="355" textLength="19" lengthAdjust="spacingAndGlyphs">48</text>
<text x="1199" y="381" textLength="19" lengthAdjust="spacingAndGlyphs">47</text>
<text x="1433" y="454" textLength="19" lengthAdjust="spacingAndGlyphs">43</text>
<text x="1366" y="450" textLength="19" lengthAdjust="spacingAndGlyphs">42</text>
<text x="1341" y="469" textLength="19" lengthAdjust="spacingAndGlyphs">41</text>
<text x="1303" y="473" textLength="19" lengthAdjust="spacingAndGlyphs">40</text>
<text x="1262" y="507" textLength="19" lengthAdjust="spacingAndGlyphs">39</text>
<text x="1199" y="509" textLength="19" lengthAdjust="spacingAndGlyphs">38</text>
<text x="1172" y="521" textLength="19" lengthAdjust="spacingAndGlyphs">31</text>
<text x="1135" y="532" textLength="19" lengthAdjust="spacingAndGlyphs">37</text>
<text x="1101" y="540" textLength="19" lengthAdjust="spacingAndGlyphs">36</text>
<text x="1072" y="547" textLength="19" lengthAdjust="spacingAndGlyphs">35</text>
<text x="1079" y="602" textLength="19" lengthAdjust="spacingAndGlyphs">34</text>
<text x="1079" y="664" textLength="19" lengthAdjust="spacingAndGlyphs">33</text>
<text x="1045" y="787" textLength="19" lengthAdjust="spacingAndGlyphs">31</text>
<text x="979" y="857" textLength="19" lengthAdjust="spacingAndGlyphs">32</text>
<text x="766" y="650" textLength="19" lengthAdjust="spacingAndGlyphs">30</text>
<text x="804" y="676" textLength="19" lengthAdjust="spacingAndGlyphs">30</text>
<text x="863" y="712" textLength="19" lengthAdjust="spacingAndGlyphs">30</text>
<text x="927" y="749" textLength="19" lengthAdjust="spacingAndGlyphs">30</text>
<text x="717" y="714" textLength="19" lengthAdjust="spacingAndGlyphs">31</text>
<text x="753" y="739" textLength="19" lengthAdjust="spacingAndGlyphs">31</text>
<text x="813" y="778" textLength="19" lengthAdjust="spacingAndGlyphs">31</text>
<text x="877" y="815" textLength="19" lengthAdjust="spacingAndGlyphs">31</text>
<text x="842" y="660" textLength="19" lengthAdjust="spacingAndGlyphs">29</text>
<text x="745" y="623" textLength="19" lengthAdjust="spacingAndGlyphs">29</text>
<text x="586" y="448" textLength="19" lengthAdjust="spacingAndGlyphs">33</text>
<text x="518" y="482" textLength="19" lengthAdjust="spacingAndGlyphs">31</text>
<text x="622" y="268" textLength="19" lengthAdjust="spacingAndGlyphs">60</text>
<text x="648" y="229" textLength="19" lengthAdjust="spacingAndGlyphs">69</text>
<text x="682" y="199" textLength="19" lengthAdjust="spacingAndGlyphs">68</text>
<text x="714" y="177" textLength="19" lengthAdjust="spacingAndGlyphs">67</text>
<text x="862" y="246" textLength="19" lengthAdjust="spacingAndGlyphs">67</text>
<text x="855" y="283" textLength="19" lengthAdjust="spacingAndGlyphs">68</text>
<text x="837" y="347" textLength="19" lengthAdjust="spacingAndGlyphs">60</text>
<text x="531" y="641" textLength="19" lengthAdjust="spacingAndGlyphs">28</text>
<text x="499" y="691" textLength="19" lengthAdjust="spacingAndGlyphs">27</text>
<text x="165" y="661" textLength="19" lengthAdjust="spacingAndGlyphs">16</text>
<text x="199" y="661" textLength="19" lengthAdjust="spacingAndGlyphs">17</text>
<text x="225" y="667" textLength="19" lengthAdjust="spacingAndGlyphs">18</text>
<text x="254" y="676" textLength="19" lengthAdjust="spacingAndGlyphs">15</text>
<text x="233" y="865" textLength="9" lengthAdjust="spacingAndGlyphs">1</text>
<text x="391" y="916" textLength="10" lengthAdjust="spacingAndGlyphs">2</text>
<text x="491" y="957" textLength="19" lengthAdjust="spacingAndGlyphs">12</text>
<text x="518" y="969" textLength="19" lengthAdjust="spacingAndGlyphs">13</text>
<text x="567" y="987" textLength="19" lengthAdjust="spacingAndGlyphs">14</text>
<text x="611" y="991" textLength="19" lengthAdjust="spacingAndGlyphs">13</text>
<text x="643" y="991" textLength="19" lengthAdjust="spacingAndGlyphs">13</text>
<text x="657" y="802" textLength="19" lengthAdjust="spacingAndGlyphs">20</text>
<text x="663" y="830" textLength="19" lengthAdjust="spacingAndGlyphs">19</text>
<text x="691" y="858" textLength="19" lengthAdjust="spacingAndGlyphs">12</text>
<text x="766" y="832" textLength="19" lengthAdjust="spacingAndGlyphs">20</text>
<text x="766" y="873" textLength="19" lengthAdjust="spacingAndGlyphs">19</text>
<text x="803" y="938" textLength="19" lengthAdjust="spacingAndGlyphs">18</text>
<text x="840" y="946" textLength="19" lengthAdjust="spacingAndGlyphs">17</text>
<text x="687" y="1036" textLength="19" lengthAdjust="spacingAndGlyphs">14</text>
<text x="717" y="1036" textLength="19" lengthAdjust="spacingAndGlyphs">13</text>
<text x="755" y="1037" textLength="19" lengthAdjust="spacingAndGlyphs">15</text>
<text x="796" y="1039" textLength="19" lengthAdjust="spacingAndGlyphs">16</text>
</g>
<text x="1226" y="877" font-family="Liberation Serif, serif" font-size="36" textLength="16" lengthAdjust="spacingAndGlyphs">2</text>
<g class="s">
<text x="1256" y="985" textLength="17" lengthAdjust="spacingAndGlyphs">2-1</text>
<text x="1276" y="994" textLength="17" lengthAdjust="spacingAndGlyphs">2-2</text>
<text x="1297" y="1001" textLength="17" lengthAdjust="spacingAndGlyphs">2-3</text>
<text x="1319" y="1010" textLength="17" lengthAdjust="spacingAndGlyphs">2-4</text>
<text x="1340" y="1015" textLength="17" lengthAdjust="spacingAndGlyphs">2-5</text>
<text x="1362" y="1018" textLength="17" lengthAdjust="spacingAndGlyphs">2-6</text>
<text x="1380" y="1025" textLength="17" lengthAdjust="spacingAndGlyphs">2-7</text>
<text x="1398" y="1031" textLength="17" lengthAdjust="spacingAndGlyphs">2-8</text>
<text x="1422" y="1039" textLength="17" lengthAdjust="spacingAndGlyphs">2-9</text>
<text x="1442" y="1047" textLength="22" lengthAdjust="spacingAndGlyphs">2-10</text>
<text x="1356" y="901" textLength="22" lengthAdjust="spacingAndGlyphs">2-11</text>
<text x="1381" y="888" textLength="22" lengthAdjust="spacingAndGlyphs">2-12</text>
<text x="1405" y="878" textLength="22" lengthAdjust="spacingAndGlyphs">2-13</text>
<text x="1431" y="868" textLength="22" lengthAdjust="spacingAndGlyphs">2-14</text>
<text x="1459" y="859" textLength="22" lengthAdjust="spacingAndGlyphs">2-15</text>
<text x="1489" y="855" textLength="22" lengthAdjust="spacingAndGlyphs">2-16</text>
</g>

<!-- red annotation -->
<text class="r" x="265" y="586" textLength="408" lengthAdjust="spacingAndGlyphs">Item #28, Stock #303180702</text>
<text class="r" x="265" y="626" textLength="220" lengthAdjust="spacingAndGlyphs">Impeller (Black)</text>
<ellipse cx="539" cy="629" rx="21" ry="24" fill="none" stroke="#e8462e" stroke-width="2.6"/>
</svg>
</body></html>
